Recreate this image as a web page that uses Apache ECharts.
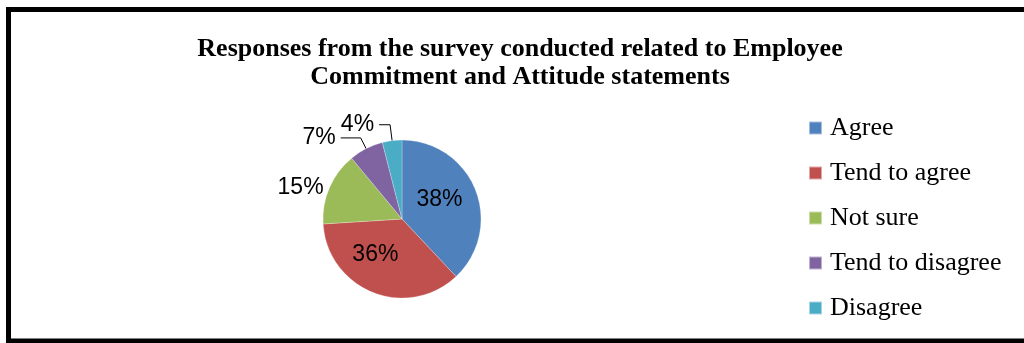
<!DOCTYPE html>
<html>
<head>
<meta charset="utf-8">
<script src="https://cdn.jsdelivr.net/npm/echarts@6/dist/echarts.min.js"></script>
<style>
html,body{margin:0;padding:0;background:#fff;}
#chart{width:1024px;height:343px;}
</style>
</head>
<body>
<div id="chart"></div>
<script>
const titleText = 'Responses from the survey conducted related to Employee\nCommitment and Attitude statements';
const categories = ['Agree', 'Tend to agree', 'Not sure', 'Tend to disagree', 'Disagree'];
const values = [38, 36, 15, 7, 4];
const colors = ['#4F81BD', '#C0504D', '#9BBB59', '#8064A2', '#4BACC6'];

const labelCfg = [
  { position: 'inside', offset: [-2, -4] },
  { position: 'inside', offset: [-11, -4] },
  { position: 'outside', line: false, length: 1, length2: 0 },
  { position: 'outside', line: true, length: 12, length2: 20 },
  { position: 'outside', line: true, length: 16, length2: 11 }
];

const data = categories.map((name, i) => {
  const c = labelCfg[i];
  const item = {
    name: name,
    value: values[i],
    itemStyle: { color: colors[i] },
    label: { position: c.position }
  };
  if (c.offset) item.label.offset = c.offset;
  if (c.position === 'outside') {
    item.labelLine = { show: c.line, length: c.length, length2: c.length2 };
  }
  return item;
});

const chart = echarts.init(document.getElementById('chart'), null, { renderer: 'canvas' });
chart.setOption({
  backgroundColor: '#fff',
  animation: false,
  title: {
    text: titleText,
    left: 520,
    top: 35,
    padding: 0,
    textAlign: 'center',
    textStyle: {
      fontFamily: '"Liberation Serif", "Times New Roman", serif',
      fontWeight: 'bold',
      fontSize: 26,
      lineHeight: 28,
      color: '#000'
    }
  },
  legend: {
    orient: 'vertical',
    left: 808,
    top: 115,
    padding: 0,
    itemWidth: 13,
    itemHeight: 13,
    itemGap: 19,
    icon: 'rect',
    data: categories,
    textStyle: {
      fontFamily: '"Liberation Serif", "Times New Roman", serif',
      fontSize: 26,
      lineHeight: 26,
      color: '#000',
      padding: [0, 0, 0, 3]
    }
  },
  graphic: [{
    type: 'rect',
    shape: { x: 8.5, y: 9.5, width: 1100, height: 331.5 },
    style: { fill: 'none', stroke: '#000', lineWidth: 5 },
    silent: true
  }],
  series: [{
    type: 'pie',
    center: [402, 219],
    radius: 79,
    startAngle: 90,
    clockwise: true,
    avoidLabelOverlap: false,
    itemStyle: { borderColor: 'rgba(255,255,255,0.5)', borderWidth: 0.5 },
    label: {
      formatter: '{c}%',
      fontFamily: '"Liberation Sans", Arial, sans-serif',
      fontSize: 23,
      color: '#000'
    },
    labelLine: {
      lineStyle: { color: '#000', width: 1 }
    },
    emphasis: { disabled: true },
    data: data
  }]
});
</script>
</body>
</html>
